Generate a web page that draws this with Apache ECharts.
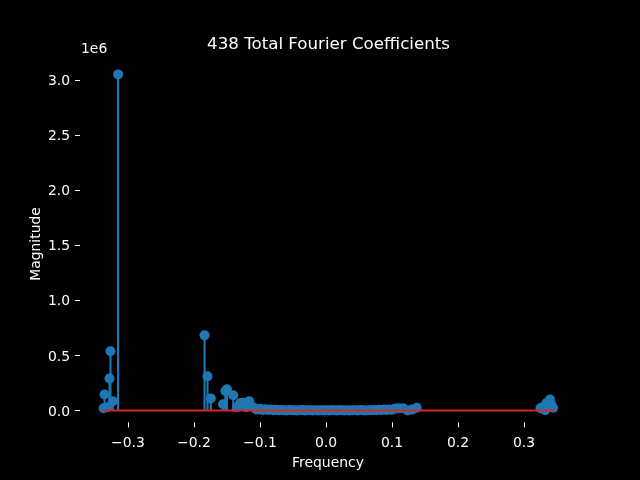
<!DOCTYPE html>
<html><head><meta charset="utf-8">
<style>html,body{margin:0;padding:0;background:#000}#c{width:640px;height:480px}</style>
<script src="https://cdn.jsdelivr.net/npm/echarts@6/dist/echarts.min.js"></script>
</head><body><div id="c"></div>
<script>
const freqs = [-0.337,-0.3355,-0.332,-0.328,-0.3265,-0.323,-0.315,
 -0.184,-0.1795,-0.1745,-0.156,-0.1525,-0.15,-0.1405,-0.135,-0.13,-0.1255,-0.121,-0.1165,-0.112,-0.108,
 -0.104,-0.1,-0.096,-0.092,-0.088,-0.084,-0.08,-0.076,-0.072,-0.068,-0.064,-0.06,-0.056,-0.052,-0.048,-0.044,-0.04,-0.036,-0.032,-0.028,-0.024,-0.02,-0.016,-0.012,-0.008,-0.004,0,
 0.004,0.008,0.012,0.016,0.02,0.024,0.028,0.032,0.036,0.04,0.044,0.048,0.052,0.056,0.06,0.064,0.068,0.072,0.076,0.08,0.084,0.088,0.092,0.096,0.1,0.105,0.11,0.117,0.124,0.13,0.1375,
 0.325,0.328,0.332,0.334,0.337,0.3394,0.341,0.344];
const magnitudes = [20000,145000,30000,290000,537000,85000,3050000,
 682000,310000,110000,56000,177000,192000,138000,30000,68000,70000,30000,85000,35000,20000,
 8000,15000,5000,12000,4000,9000,3000,6000,2000,5000,3000,1000,4000,2000,3000,1000,2000,4000,1000,2000,3000,1000,2000,1000,3000,1000,2000,
 1000,3000,2000,1000,2000,3000,1000,2000,1000,3000,2000,1000,4000,2000,1000,3000,2000,5000,3000,6000,4000,8000,5000,10000,6000,18000,20000,20000,1000,8000,25000,
 20000,30000,2000,68000,40000,100000,60000,25000];
const xTicks = [-0.3,-0.2,-0.1,0,0.1,0.2,0.3];
const yTicks = [0,500000,1000000,1500000,2000000,2500000,3000000];
const baseline = [[-0.3385,0],[0.344,0]];
const points = freqs.map((f,i)=>[f,magnitudes[i]]);
const font = 'DejaVu Sans';
const chart = echarts.init(document.getElementById('c'),null,{renderer:'canvas'});
chart.setOption({
 backgroundColor:'#000',
 animation:false,
 title:{text:'438 Total Fourier Coefficients',left:323.5,top:31,textAlign:'center',
   textStyle:{color:'#fff',fontFamily:font,fontSize:16.67,fontWeight:'normal'}},
 graphic:[
  {type:'text',left:81,top:42,style:{text:'1e6',fill:'#fff',font:'13.9px "DejaVu Sans"'}},
  {type:'text',x:36,y:244,rotation:Math.PI/2,style:{text:'Magnitude',fill:'#fff',font:'13.9px "DejaVu Sans"',align:'center',verticalAlign:'middle'}}
 ],
 grid:{left:80,right:64,top:57.6,bottom:57.6},
 xAxis:{type:'value',min:-0.3727,max:0.3788,splitLine:{show:false},
   name:'Frequency',nameLocation:'middle',nameGap:34,nameMoveOverlap:false,
   nameTextStyle:{color:'#fff',fontFamily:font,fontSize:13.9},
   axisLine:{show:false,onZero:false},
   axisTick:{show:true,length:5,customValues:xTicks,lineStyle:{color:'#fff',width:1}},
   axisLabel:{color:'#fff',fontFamily:font,fontSize:13.9,margin:14,customValues:xTicks,
     formatter:v=>(v<0?'\u2212':'')+Math.abs(v).toFixed(1)}},
 yAxis:{type:'value',min:-108000,max:3202400,splitLine:{show:false},
   axisLine:{show:false,onZero:false},
   axisTick:{show:true,length:5,customValues:yTicks,lineStyle:{color:'#fff',width:1}},
   axisLabel:{color:'#fff',margin:10,customValues:yTicks,
     rich:{t:{color:'#fff',fontFamily:font,fontSize:13.9,padding:[3,0,0,0]}},
     formatter:v=>'{t|'+(v/1e6).toFixed(1)+'}'}},
 series:[
  {type:'custom',data:points,z:2,clip:true,silent:true,
   renderItem:(p,api)=>{const a=api.coord([api.value(0),0]),b=api.coord([api.value(0),api.value(1)]);
     return {type:'line',shape:{x1:a[0],y1:a[1],x2:b[0],y2:b[1]},style:{stroke:'#1f77b4',lineWidth:2.1}};}},
  {type:'scatter',data:points,z:3,symbol:'circle',symbolSize:10,silent:true,itemStyle:{color:'#1f77b4',opacity:1}},
  {type:'line',data:baseline,z:4,showSymbol:false,silent:true,lineStyle:{color:'#d62728',width:2.1}}
 ]
});
</script></body></html>
